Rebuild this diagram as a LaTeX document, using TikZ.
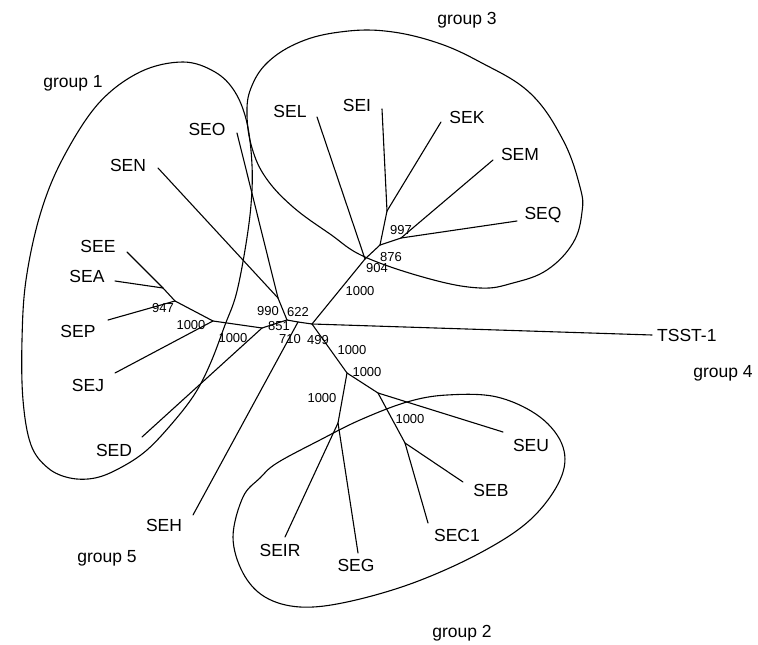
\documentclass[tikz,border=0pt]{standalone}
\usepackage{fontspec}
\setmainfont{Liberation Sans}
\begin{document}
\begin{tikzpicture}[x=1pt,y=-1pt,
  edge/.style={line width=1.1pt, line cap=round, line join=round},
  grp/.style={line width=1.1pt},
  leaf/.style={font=\fontsize{17.5}{20}\selectfont, inner sep=0pt},
  boot/.style={font=\fontsize{13}{15}\selectfont, inner sep=0pt},
  glab/.style={font=\fontsize{17.5}{20}\selectfont, inner sep=0pt}]
\useasboundingbox (0,0) rectangle (758,645);

% internal nodes
\coordinate (C) at (312,324);
\coordinate (N3a) at (365,259);
\coordinate (N3b) at (380,245);
\coordinate (N3c) at (387,211);
\coordinate (N3d) at (401,238);
\coordinate (N710) at (298,322);
\coordinate (N1b) at (287,320);
\coordinate (N1a) at (278,298);
\coordinate (N851) at (262,328);
\coordinate (N1000a) at (213,321);
\coordinate (N947) at (175,301);
\coordinate (NEA) at (163,288);
\coordinate (G1) at (347,373);
\coordinate (G2) at (378,393);
\coordinate (G3) at (405,443);
\coordinate (GIG) at (338,423);

% leaf ends
\coordinate (eTSST) at (652,335);
\coordinate (eSEL) at (317,117);
\coordinate (eSEI) at (382,109);
\coordinate (eSEK) at (441,122);
\coordinate (eSEM) at (493,160);
\coordinate (eSEQ) at (517,221);
\coordinate (eSEN) at (158,168);
\coordinate (eSEO) at (237,133);
\coordinate (eSEE) at (127,252);
\coordinate (eSEA) at (115,281);
\coordinate (eSEP) at (108,320);
\coordinate (eSEJ) at (115,373);
\coordinate (eSED) at (142,437);
\coordinate (eSEH) at (193,515);
\coordinate (eSEIR) at (285,537);
\coordinate (eSEG) at (358,553);
\coordinate (eSEU) at (503,432);
\coordinate (eSEB) at (463,482);
\coordinate (eSEC1) at (428,523);

% group outlines
\draw[grp] plot[smooth cycle, tension=0.6] coordinates {
  (183,62) (215,72) (235,92) (247,123) (252,165) (251,205) (245,250)
  (236,295) (225,325) (211,362) (196,392) (175,420) (147,450) (120,468)
  (95,478) (70,478) (48,468) (31,445) (23,400) (22,340) (26,280)
  (40,215) (62,160) (98,104) (140,72)};
\draw[grp] plot[smooth cycle, tension=0.65] coordinates {
  (247,115) (251,88) (268,62) (300,42) (340,32) (385,31) (435,42)
  (480,62) (530,93) (563,140) (580,187) (582,212) (573,243) (547,270)
  (513,283) (480,288) (430,279) (365,257) (330,234) (293,207) (266,178)
  (252,148)};
\draw[grp] plot[smooth cycle, tension=0.6] coordinates {
  (233,537) (243,497) (260,478) (277,463) (320,440) (360,420) (407,402)
  (447,395) (497,397) (540,417) (563,447) (560,480) (530,520) (480,553)
  (413,583) (347,602) (300,607) (265,597) (243,573)};

% tree edges
\draw[edge] (C) -- (eTSST);
\draw[edge] (C) -- (N3a);
\draw[edge] (N3a) -- (eSEL);
\draw[edge] (N3a) -- (N3b);
\draw[edge] (N3b) -- (N3c);
\draw[edge] (N3c) -- (eSEI);
\draw[edge] (N3c) -- (eSEK);
\draw[edge] (N3b) -- (N3d);
\draw[edge] (N3d) -- (eSEM);
\draw[edge] (N3d) -- (eSEQ);
\draw[edge] (C) -- (N710);
\draw[edge] (N710) -- (N1b);
\draw[edge] (N710) -- (eSEH);
\draw[edge] (N1b) -- (N1a);
\draw[edge] (N1a) -- (eSEN);
\draw[edge] (N1a) -- (eSEO);
\draw[edge] (N1b) -- (N851);
\draw[edge] (N851) -- (eSED);
\draw[edge] (N851) -- (N1000a);
\draw[edge] (N1000a) -- (eSEJ);
\draw[edge] (N1000a) -- (N947);
\draw[edge] (N947) -- (eSEP);
\draw[edge] (N947) -- (NEA);
\draw[edge] (NEA) -- (eSEE);
\draw[edge] (NEA) -- (eSEA);
\draw[edge] (C) -- (G1);
\draw[edge] (G1) -- (GIG);
\draw[edge] (GIG) -- (eSEIR);
\draw[edge] (GIG) -- (eSEG);
\draw[edge] (G1) -- (G2);
\draw[edge] (G2) -- (eSEU);
\draw[edge] (G2) -- (G3);
\draw[edge] (G3) -- (eSEB);
\draw[edge] (G3) -- (eSEC1);

% leaf labels
\node[leaf, anchor=west] (lTSST) at (657,335) {TSST-1};
\node[leaf] (lSEL) at (290,111) {SEL};
\node[leaf] (lSEI) at (357,105) {SEI};
\node[leaf] (lSEK) at (467,117) {SEK};
\node[leaf] (lSEM) at (520,154) {SEM};
\node[leaf] (lSEQ) at (543,215) {SEQ};
\node[leaf] (lSEN) at (128,165) {SEN};
\node[leaf] (lSEO) at (207,129) {SEO};
\node[leaf] (lSEE) at (98,246) {SEE};
\node[leaf] (lSEA) at (87,276) {SEA};
\node[leaf] (lSEP) at (78,331) {SEP};
\node[leaf] (lSEJ) at (88,385) {SEJ};
\node[leaf] (lSED) at (114,450) {SED};
\node[leaf] (lSEH) at (164,525) {SEH};
\node[leaf] (lSEIR) at (280,550) {SEIR};
\node[leaf] (lSEG) at (356,565) {SEG};
\node[leaf] (lSEU) at (531,445) {SEU};
\node[leaf] (lSEB) at (491,490) {SEB};
\node[leaf] (lSEC1) at (457,535) {SEC1};

% bootstrap values
\node[boot] (b1000g3) at (360,291) {1000};
\node[boot] (b904) at (377,268) {904};
\node[boot] (b876) at (391,257) {876};
\node[boot] (b997) at (401,230) {997};
\node[boot] (b990) at (268,311) {990};
\node[boot] (b622) at (298,312) {622};
\node[boot] (b851) at (279,326) {851};
\node[boot] (b710) at (290,339) {710};
\node[boot] (b499) at (318,340) {499};
\node[boot] (b1000a) at (191,325) {1000};
\node[boot] (b1000b) at (233,338) {1000};
\node[boot] (b947) at (163,308) {947};
\node[boot] (b1000c) at (352,350) {1000};
\node[boot] (b1000d) at (367,372) {1000};
\node[boot] (b1000e) at (322,398) {1000};
\node[boot] (b1000f) at (410,419) {1000};

% group labels
\node[glab] (g1) at (73,83) {group 1};
\node[glab] (g3) at (467,20) {group 3};
\node[glab] (g4) at (723,373) {group 4};
\node[glab] (g5) at (107,558) {group 5};
\node[glab] (g2) at (462,633) {group 2};
\end{tikzpicture}
\end{document}
